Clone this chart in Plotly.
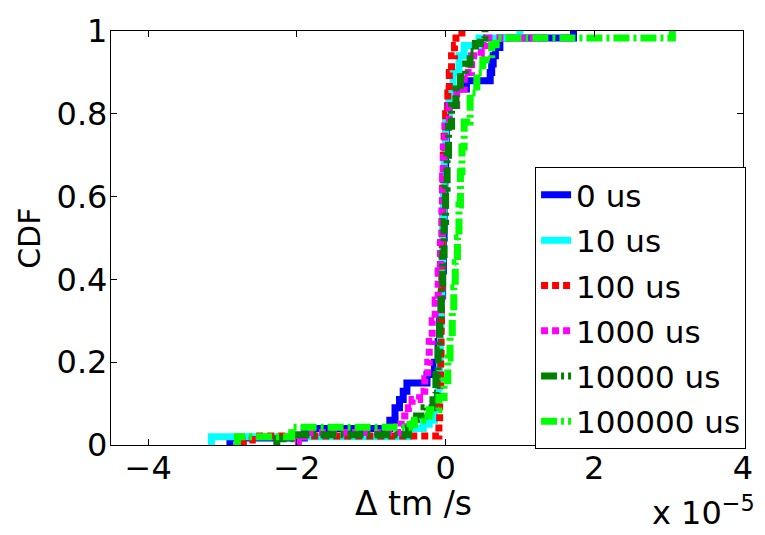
import plotly.graph_objects as go

# Empirical CDF staircases of the timing offset, x in units of 1e-5 s.
# Each (x, y) pair is a stair vertex: the level y holds from x to the next x.
labels = ["0 us", "10 us", "100 us", "1000 us", "10000 us", "100000 us"]
colors = ["#0000ff", "#00ffff", "#ff0000", "#ff00ff", "#008000", "#00ff00"]
dashes = ["solid", "solid", "7px,4px", "7px,4px", "16px,4px,3px,4px", "16px,4px,3px,4px"]

x_0us = [-2.9, -2.9, -1.9, -0.75, -0.68, -0.62, -0.57, -0.52, -0.25, -0.15, -0.1, -0.08,
         -0.06, -0.04, -0.03, -0.02, -0.01, 0.0, 0.01, 0.03, 0.05, 0.28, 0.6, 0.62,
         0.64, 0.67, 0.73, 1.72]
y_0us = [0.0, 0.017, 0.04, 0.06, 0.09, 0.11, 0.13, 0.15, 0.17, 0.2, 0.25, 0.3,
         0.36, 0.42, 0.5, 0.58, 0.65, 0.72, 0.78, 0.82, 0.86, 0.88, 0.9, 0.92,
         0.94, 0.96, 0.983, 1.0]

x_10us = [-3.15, -3.15, -0.5, -0.3, -0.22, -0.15, -0.1, -0.08, -0.07, -0.06, -0.05,
          -0.04, -0.03, -0.02, 0.0, 0.05, 0.1, 0.18, 0.25, 0.45, 1.0]
y_10us = [0.0, 0.02, 0.04, 0.05, 0.06, 0.09, 0.14, 0.2, 0.28, 0.36, 0.45,
          0.55, 0.62, 0.7, 0.78, 0.85, 0.9, 0.94, 0.965, 0.983, 1.0]

x_100us = [-2.72, -2.72, -2.6, -0.09, -0.08, -0.07, -0.065, -0.06, -0.055, -0.05,
           -0.045, -0.04, -0.03, -0.02, 0.0, 0.03, 0.05, 0.08, 0.12, 0.14, 0.22]
y_100us = [0.0, 0.012, 0.022, 0.05, 0.1, 0.15, 0.22, 0.3, 0.38, 0.46,
           0.54, 0.62, 0.7, 0.76, 0.8, 0.85, 0.9, 0.94, 0.965, 0.983, 1.0]

x_1000us = [-1.98, -1.98, -1.9, -0.6, -0.55, -0.5, -0.45, -0.35, -0.28, -0.24, -0.22,
            -0.18, -0.14, -0.1, -0.07, -0.05, -0.04, -0.03, -0.01, 0.05, 0.15, 0.25,
            0.35, 0.48, 0.55, 1.33]
y_1000us = [0.0, 0.012, 0.03, 0.05, 0.07, 0.09, 0.11, 0.13, 0.16, 0.2, 0.25,
            0.3, 0.35, 0.42, 0.5, 0.58, 0.65, 0.72, 0.78, 0.82, 0.86, 0.9,
            0.94, 0.965, 0.983, 1.0]

x_10000us = [-2.27, -2.27, -2.0, -0.5, -0.44, -0.39, -0.29, -0.17, -0.13, -0.1, -0.08,
             -0.06, -0.04, -0.02, 0.0, 0.02, 0.04, 0.08, 0.14, 0.2, 0.27, 0.33, 0.4,
             0.47, 0.53]
y_10000us = [0.0, 0.015, 0.025, 0.04, 0.05, 0.07, 0.09, 0.125, 0.17, 0.23, 0.3,
             0.38, 0.46, 0.54, 0.62, 0.7, 0.77, 0.82, 0.86, 0.89, 0.92, 0.95, 0.97,
             0.983, 1.0]

x_100000us = [-2.8, -2.8, -2.07, -0.48, -0.42, -0.31, -0.22, -0.09, -0.02, 0.03, 0.06,
              0.09, 0.11, 0.13, 0.16, 0.18, 0.2, 0.22, 0.25, 0.33, 0.42, 0.5, 0.62,
              0.68, 3.05]
y_100000us = [0.0, 0.02, 0.043, 0.05, 0.06, 0.07, 0.085, 0.115, 0.155, 0.21, 0.26,
              0.32, 0.38, 0.44, 0.5, 0.58, 0.66, 0.72, 0.78, 0.85, 0.9, 0.93, 0.967,
              0.983, 1.0]

series_x = [x_0us, x_10us, x_100us, x_1000us, x_10000us, x_100000us]
series_y = [y_0us, y_10us, y_100us, y_1000us, y_10000us, y_100000us]

x_ticks = [-4, -2, 0, 2, 4]
y_ticks = [0, 0.2, 0.4, 0.6, 0.8, 1]
y_tick_text = ["0", "0.2", "0.4", "0.6", "0.8", "1"]

FONT = "DejaVu Sans"

fig = go.Figure()
for lab, col, dsh, xs, ys in zip(labels, colors, dashes, series_x, series_y):
    fig.add_trace(go.Scatter(
        x=xs, y=ys, mode="lines", name=lab, legendgroup=lab,
        line=dict(color=col, width=7, dash=dsh, shape="hv"),
    ))

axis_common = dict(
    showline=True, linecolor="black", linewidth=1.3, mirror="ticks",
    ticks="inside", ticklen=6, tickwidth=1.3, tickcolor="black",
    showgrid=False, zeroline=False,
    tickfont=dict(family=FONT, size=32, color="black"),
)

fig.update_layout(
    width=765, height=535,
    margin=dict(l=111, r=13, t=23, b=90),
    paper_bgcolor="white", plot_bgcolor="white",
    xaxis=dict(range=[-4.5, 4], tickvals=x_ticks, ticklabelstandoff=-6, **axis_common),
    yaxis=dict(range=[0, 1], tickvals=y_ticks, ticktext=y_tick_text,
               ticklabelstandoff=-4, **axis_common),
    legend=dict(
        x=0.671, y=0.671, xanchor="left", yanchor="top",
        bgcolor="white", bordercolor="black", borderwidth=1,
        font=dict(family=FONT, size=31, color="black"),
        tracegroupgap=2, itemwidth=30,
    ),
    showlegend=True,
    annotations=[
        dict(text="\u0394 tm /s", xref="paper", yref="paper", x=0.478, y=-0.142,
             xanchor="center", yanchor="middle", showarrow=False,
             font=dict(family=FONT, size=33, color="black")),
        dict(text="x 10<sup>\u22125</sup>", xref="paper", yref="paper", x=1.022, y=-0.216,
             xanchor="right", yanchor="bottom", showarrow=False,
             font=dict(family=FONT, size=32, color="black")),
        dict(text="CDF", xref="paper", yref="paper", x=-0.13, y=0.5, textangle=-90,
             xanchor="center", yanchor="middle", showarrow=False,
             font=dict(family=FONT, size=30, color="black")),
    ],
)

fig.write_html("out.html")
